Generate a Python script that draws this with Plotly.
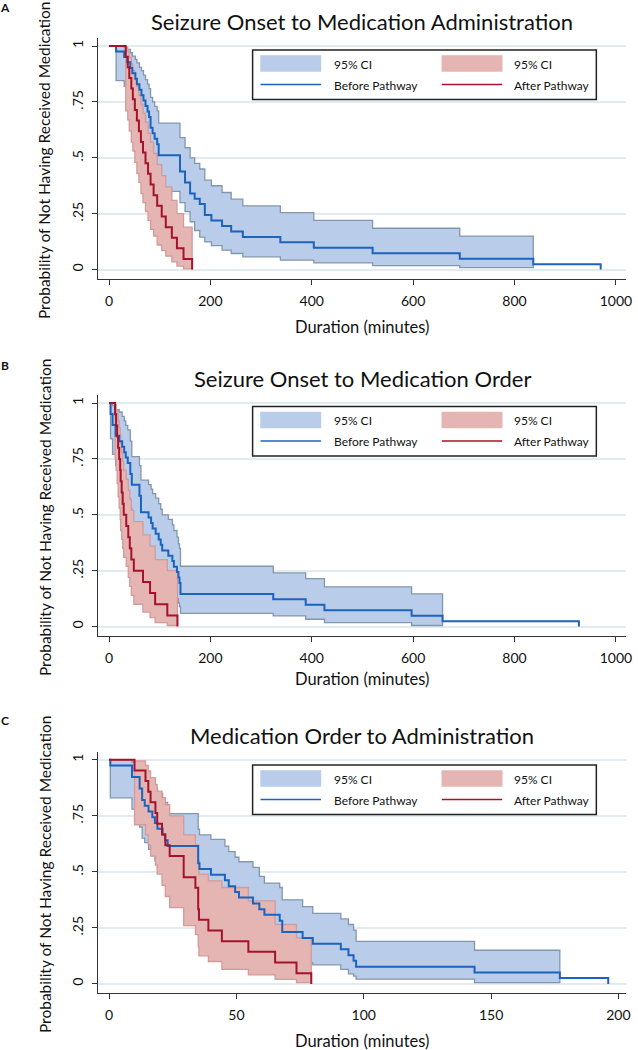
import plotly.graph_objects as go

W, H = 638, 1050

# ---------------- Panel A: Seizure Onset to Medication Administration ----------------
A_before_t = [0, 14, 30, 36, 42, 46, 52, 55, 60, 64, 68, 72, 76, 79, 82, 86, 90, 95, 98, 140,
              150, 160, 169, 179, 189, 202, 223, 241, 264, 338, 404, 520, 692, 837, 970]
A_before_s = [1, .976, .951, .927, .902, .878, .854, .829, .805, .780, .756, .732, .707, .683, .634,
              .610, .585, .561, .512, .439, .390, .341, .317, .293, .244, .220, .195, .171, .146,
              .122, .098, .073, .049, .024, 0]
A_before_hi = [1, 1.0, .995, .985, .97, .955, .94, .925, .905, .89, .87, .85, .83, .81, .77, .75,
               .73, .71, .655, .59, .545, .50, .475, .45, .40, .375, .345, .315, .285, .255, .22,
               .185, .15]
A_before_lo = [1, .845, .82, .79, .76, .73, .70, .67, .645, .62, .59, .565, .54, .515, .465, .44,
               .415, .39, .35, .30, .259, .214, .175, .145, .124, .107, .087, .072, .057, .042,
               .030, .018, .009]
A_before_band_end = 837

A_after_t = [0, 33, 37, 40, 44, 47, 51, 55, 59, 63, 67, 72, 77, 82, 88, 95, 104, 112, 124, 134, 147, 164]
A_after_s = [1, .952, .905, .857, .810, .762, .714, .667, .619, .571, .524, .476, .429, .381, .333,
             .286, .238, .190, .143, .095, .048, 0]
A_after_hi = [1, .993, .975, .95, .92, .89, .85, .82, .78, .74, .70, .66, .61, .57, .52, .47, .42,
              .37, .31, .25, .19]
A_after_lo = [1, .71, .67, .62, .57, .53, .48, .43, .39, .34, .30, .26, .22, .18, .15, .11, .085,
              .06, .035, .016, .003]
A_after_band_end = 164

# ---------------- Panel B: Seizure Onset to Medication Order ----------------
B_before_t = [0, 3, 7, 13, 20, 26, 30, 33, 37, 42, 45, 60, 63, 78, 83, 86, 92, 98, 102, 105, 117,
              125, 128, 134, 137, 139, 141, 324, 388, 425, 597, 658, 927]
B_before_s = [1, .951, .902, .854, .829, .805, .780, .756, .732, .683, .634, .585, .512, .488, .463,
              .439, .415, .390, .366, .341, .317, .293, .268, .244, .220, .195, .146, .122, .098,
              .073, .049, .024, 0]
B_before_hi = [1, 1.0, .99, .97, .96, .94, .92, .90, .88, .83, .76, .72, .655, .635, .615, .595,
               .575, .55, .525, .50, .48, .455, .43, .40, .37, .35, .27, .24, .215, .178, .146]
B_before_lo = [1, .84, .77, .72, .69, .66, .63, .60, .575, .53, .47, .43, .35, .33, .31, .29, .27,
               .245, .225, .20, .18, .16, .14, .125, .105, .09, .059, .048, .033, .018, .005]
B_before_band_end = 658

B_after_t = [0, 12, 14, 16, 18, 20, 22, 23, 25, 27, 29, 34, 38, 41, 44, 49, 67, 81, 91, 115, 135]
B_after_s = [1, .95, .90, .85, .80, .75, .70, .65, .60, .55, .50, .45, .40, .35, .30, .25, .20, .15,
             .10, .05, 0]
B_after_hi = [1, .993, .97, .95, .92, .89, .86, .82, .78, .74, .70, .66, .61, .57, .52, .47, .41,
              .36, .30, .25]
B_after_lo = [1, .75, .70, .64, .58, .53, .48, .43, .39, .35, .31, .27, .22, .18, .14, .10, .065,
              .04, .018, .005]
B_after_band_end = 135

# ---------------- Panel C: Medication Order to Administration ----------------
C_before_t = [0, 0.5, 9, 12, 13, 14, 15.5, 17, 18, 19, 21, 22, 23, 35, 35.5, 40, 45.5, 47, 49.5, 51,
              56.5, 59, 61, 67, 68, 76, 80, 91, 94, 96, 97, 143.5, 177, 196]
C_before_s = [1, .974, .923, .872, .821, .795, .769, .744, .718, .692, .667, .641, .615, .538, .513,
              .487, .462, .436, .410, .385, .359, .333, .308, .282, .231, .205, .179, .154, .128,
              .103, .077, .051, .026, 0]
C_before_hi = [1, 1.0, .99, .97, .95, .93, .91, .89, .87, .85, .83, .81, .76, .69, .665, .645, .615,
               .59, .565, .545, .52, .48, .45, .43, .375, .345, .315, .29, .265, .24, .19, .15]
C_before_lo = [1, .83, .78, .70, .65, .63, .60, .575, .55, .52, .50, .47, .45, .37, .35, .32, .30,
               .28, .25, .23, .21, .19, .17, .15, .11, .095, .085, .065, .045, .035, .021, .006]
C_before_band_end = 177

C_after_t = [0, 10, 14.3, 15.4, 16.3, 18.2, 18.9, 20.8, 22.1, 23.8, 29.3, 33.9, 35, 35.3, 39, 44.3,
             54.7, 65.2, 73.6, 79.4]
C_after_s = [1, .952, .905, .857, .810, .762, .714, .667, .619, .571, .476, .429, .333, .286, .238,
             .190, .143, .095, .048, 0]
C_after_hi = [1, .995, .975, .95, .92, .89, .86, .83, .80, .75, .665, .62, .55, .49, .46, .43, .37,
              .265, .205]
C_after_lo = [1, .71, .665, .62, .57, .53, .49, .44, .39, .34, .26, .22, .165, .125, .10, .065, .04,
              .02, .006]
C_after_band_end = 79.4

panel_titles = ["Seizure Onset to Medication Administration",
                "Seizure Onset to Medication Order",
                "Medication Order to Administration"]
panel_letters = ["A", "B", "C"]
x_ticks = [[0, 200, 400, 600, 800, 1000], [0, 200, 400, 600, 800, 1000], [0, 50, 100, 150, 200]]
x_ranges = [[-21, 1020], [-21, 1020], [-4.2, 203]]
y_tickvals = [0, .25, .5, .75, 1]
y_ticktext = ["0", ".25", ".5", ".75", "1"]
legend_labels = ["95% CI", "Before Pathway", "95% CI", "After Pathway"]
x_title = "Duration (minutes)"
y_title = "Probability of Not Having Received Medication"

# ---------------- style / layout geometry ----------------
BLUE_FILL = '#b9cdeb'
BLUE_EDGE = '#8397ac'
BLUE_LINE = '#1b63bd'
RED_FILL = '#e5b5b3'
RED_EDGE = '#d29b9a'
RED_LINE = '#a5122b'
FONT = 'Lato'

# pixel geometry of each panel: plot top, plot bottom, title y, legend top, x-title y, letter y
geo = [dict(top=38, bot=279, title=22, leg=50, xt=327, let=7),
       dict(top=395, bot=636, title=378, leg=406.5, xt=679, let=365),
       dict(top=751.7, bot=993.3, title=735, leg=765, xt=1041, let=720)]
PL, PR = 99.3, 632
YR = [-0.042, 1.036]

def px(x):
    return x / W

def py(y):
    return 1 - y / H

def step_path(t, v, t_end):
    xs, ys = [], []
    for i, val in enumerate(v):
        x1 = t[i + 1] if i + 1 < len(v) else t_end
        xs += [t[i], x1]
        ys += [val, val]
    return xs, ys

def band_trace(t, lo, hi, t_end, fill, edge, xa, ya):
    xu, yu = step_path(t, hi, t_end)
    xl, yl = step_path(t, lo, t_end)
    return go.Scatter(x=xu + xl[::-1] + [xu[0]], y=yu + yl[::-1] + [yu[0]], mode='lines',
                      fill='toself', fillcolor=fill, line=dict(color=edge, width=1.3),
                      xaxis=xa, yaxis=ya, showlegend=False, hoverinfo='skip')

def km_trace(t, s, color, xa, ya, name):
    return go.Scatter(x=t, y=s, mode='lines', line=dict(shape='hv', color=color, width=2),
                      xaxis=xa, yaxis=ya, name=name, showlegend=False)

panels = [
    (A_before_t, A_before_s, A_before_lo, A_before_hi, A_before_band_end,
     A_after_t, A_after_s, A_after_lo, A_after_hi, A_after_band_end),
    (B_before_t, B_before_s, B_before_lo, B_before_hi, B_before_band_end,
     B_after_t, B_after_s, B_after_lo, B_after_hi, B_after_band_end),
    (C_before_t, C_before_s, C_before_lo, C_before_hi, C_before_band_end,
     C_after_t, C_after_s, C_after_lo, C_after_hi, C_after_band_end),
]

fig = go.Figure()
annotations = []
shapes = []
layout_axes = {}

for k, (bt, bs, blo, bhi, bend, at, as_, alo, ahi, aend) in enumerate(panels):
    xa = 'x' if k == 0 else f'x{k + 1}'
    ya = 'y' if k == 0 else f'y{k + 1}'
    fig.add_trace(band_trace(bt, blo, bhi, bend, BLUE_FILL, BLUE_EDGE, xa, ya))
    fig.add_trace(band_trace(at, alo, ahi, aend, RED_FILL, RED_EDGE, xa, ya))
    fig.add_trace(km_trace(bt, bs, BLUE_LINE, xa, ya, 'Before Pathway'))
    fig.add_trace(km_trace(at, as_, RED_LINE, xa, ya, 'After Pathway'))

    g = geo[k]
    xkey = 'xaxis' if k == 0 else f'xaxis{k + 1}'
    ykey = 'yaxis' if k == 0 else f'yaxis{k + 1}'
    layout_axes[xkey] = dict(domain=[px(PL), px(PR)], anchor=ya, range=x_ranges[k],
                             tickvals=x_ticks[k], ticks='outside', ticklen=5, tickwidth=1.2,
                             tickcolor='#333', showline=True, linecolor='#333', linewidth=1.3,
                             showgrid=False, zeroline=False, ticklabelstandoff=4,
                             tickfont=dict(family=FONT, size=14, color='#111'))
    layout_axes[ykey] = dict(domain=[py(g['bot']), py(g['top'])], anchor=xa, range=YR,
                             tickvals=y_tickvals, ticktext=y_ticktext, tickangle=-90,
                             ticks='outside', ticklen=5, tickwidth=1.2, tickcolor='#333',
                             showline=True, linecolor='#333', linewidth=1.3,
                             showgrid=True, gridcolor='#e2ebf0', gridwidth=1.5, zeroline=False,
                             ticklabelstandoff=4,
                             tickfont=dict(family=FONT, size=14, color='#111'))

    cx = (PL + PR) / 2
    annotations.append(dict(text=panel_titles[k], x=px(cx), y=py(g['title']), xref='paper',
                            yref='paper', showarrow=False, xanchor='center', yanchor='middle',
                            font=dict(family=FONT, size=22, color='#111')))
    annotations.append(dict(text=x_title, x=px(cx), y=py(g['xt']), xref='paper', yref='paper',
                            showarrow=False, xanchor='center', yanchor='middle',
                            font=dict(family=FONT, size=16.5, color='#111')))
    annotations.append(dict(text=y_title, x=px(45), y=py((g['top'] + g['bot']) / 2 + 2),
                            xref='paper', yref='paper', showarrow=False, textangle=-90,
                            xanchor='center', yanchor='middle',
                            font=dict(family=FONT, size=15.5, color='#111')))
    annotations.append(dict(text='<b>' + panel_letters[k] + '</b>', x=px(5), y=py(g['let']),
                            xref='paper', yref='paper', showarrow=False, xanchor='center',
                            yanchor='middle', font=dict(family=FONT, size=12, color='#111')))

    # legend block (2 x 2)
    L = g['leg']
    shapes.append(dict(type='rect', xref='paper', yref='paper', x0=px(255), x1=px(602),
                       y0=py(L), y1=py(L + 49.5), line=dict(color='#222', width=1.5),
                       fillcolor='white', layer='above'))
    cols = [(263, 324, 335, BLUE_FILL, BLUE_LINE, legend_labels[0], legend_labels[1]),
            (446, 507, 517, RED_FILL, RED_LINE, legend_labels[2], legend_labels[3])]
    for (sx0, sx1, tx, fc, lc, lab1, lab2) in cols:
        shapes.append(dict(type='rect', xref='paper', yref='paper', x0=px(sx0), x1=px(sx1),
                           y0=py(L + 5.5), y1=py(L + 21.5), fillcolor=fc,
                           line=dict(color=fc, width=0.5), layer='above'))
        shapes.append(dict(type='line', xref='paper', yref='paper', x0=px(sx0), x1=px(sx1),
                           y0=py(L + 34.5), y1=py(L + 34.5), line=dict(color=lc, width=1.6),
                           layer='above'))
        annotations.append(dict(text=lab1, x=px(tx), y=py(L + 14), xref='paper', yref='paper',
                                showarrow=False, xanchor='left', yanchor='middle',
                                font=dict(family=FONT, size=12, color='#111')))
        annotations.append(dict(text=lab2, x=px(tx), y=py(L + 35), xref='paper', yref='paper',
                                showarrow=False, xanchor='left', yanchor='middle',
                                font=dict(family=FONT, size=12, color='#111')))

fig.update_layout(width=W, height=H, margin=dict(l=0, r=0, t=0, b=0),
                  paper_bgcolor='white', plot_bgcolor='white', showlegend=False,
                  annotations=annotations, shapes=shapes, **layout_axes)

# remove the default page margin so the 638x1050 figure fills the window exactly
fig.write_html("out.html", config={'displayModeBar': False},
               post_script="document.body.style.margin='0';document.body.style.overflow='hidden';")
